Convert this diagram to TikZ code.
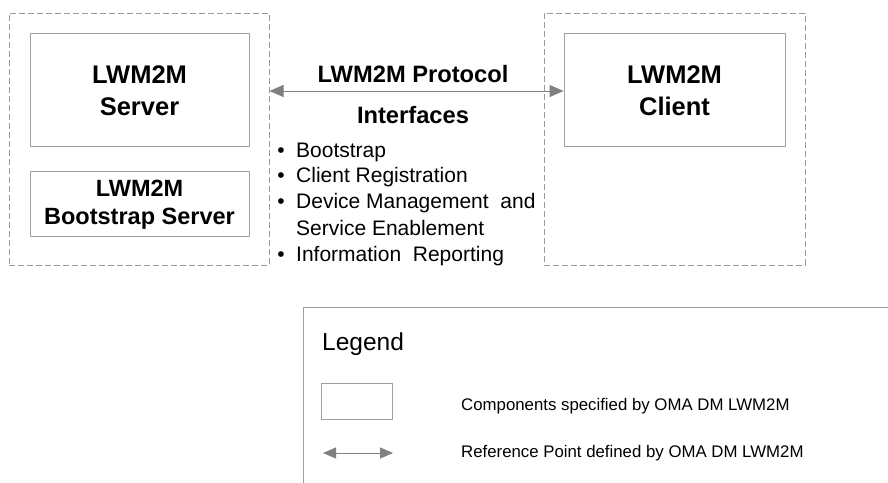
\documentclass[tikz,border=0pt]{standalone}
\usepackage{fontspec}
\setmainfont{Liberation Sans}
\usetikzlibrary{arrows.meta}
\definecolor{dashgray}{HTML}{9A9A9A}
\definecolor{boxgray}{HTML}{A0A0A0}
\definecolor{arrgray}{HTML}{808080}
\tikzset{
  group/.style={draw=dashgray, line width=1pt, dash pattern=on 6pt off 3pt, inner sep=0pt},
  compbox/.style={draw=boxgray, line width=1pt, inner sep=0pt},
  bigtitle/.style={font=\fontsize{25.5}{30}\selectfont\bfseries, inner sep=0pt, anchor=base},
  smalltitle/.style={font=\fontsize{23.5}{28}\selectfont\bfseries, inner sep=0pt, anchor=base},
  proto/.style={font=\fontsize{23.7}{28}\selectfont\bfseries, inner sep=0pt, anchor=base},
  item/.style={font=\fontsize{21}{26}\selectfont, inner sep=0pt, anchor=base west},
  bul/.style={font=\fontsize{21}{26}\selectfont, inner sep=0pt, anchor=base},
  refarrow/.style={draw=arrgray, line width=1pt, {Triangle[length=14pt,width=12pt,fill=arrgray]}-{Triangle[length=14pt,width=12pt,fill=arrgray]}},
  legarrow/.style={draw=arrgray, line width=1pt, {Triangle[length=13pt,width=11pt,fill=arrgray]}-{Triangle[length=13pt,width=11pt,fill=arrgray]}},
  legtext/.style={font=\fontsize{16.8}{20}\selectfont, inner sep=0pt, anchor=base west},
}
\begin{document}
\begin{tikzpicture}[x=1pt,y=-1pt]
\useasboundingbox (0,0) rectangle (888,482);
% groups
\node[group, minimum width=260pt, minimum height=252pt] (leftgroup) at (139,139) {};
\node[group, minimum width=261pt, minimum height=252pt] (rightgroup) at (674.5,139) {};
% component boxes
\node[compbox, minimum width=219pt, minimum height=113pt] (server) at (139.5,89.5) {};
\node[compbox, minimum width=219pt, minimum height=65pt] (bootstrap) at (139.5,203.5) {};
\node[compbox, minimum width=221pt, minimum height=113pt] (client) at (674.5,89.5) {};
% titles
\node[bigtitle] (s1) at (139.5,83.3) {LWM2M};
\node[bigtitle] (s2) at (139.5,115) {Server};
\node[smalltitle] (b1) at (139.5,196.7) {LWM2M};
\node[smalltitle] (b2) at (139.5,224) {Bootstrap Server};
\node[bigtitle] (c1) at (674.5,83.3) {LWM2M};
\node[bigtitle] (c2) at (674.5,115) {Client};
% protocol arrow
\draw[refarrow] ([yshift=-1.5pt]leftgroup.east |- client.west) -- ([yshift=-1.5pt]client.west);
\node[proto] (proto) at (413,82.7) {LWM2M Protocol};
\node[proto] (iface) at (413,123.3) {Interfaces};
% bullet list
\node[bul] (bu1) at (281,157.7) {•};
\node[item] (i1) at (296,157.7) {Bootstrap};
\node[bul] (bu2) at (281,182.7) {•};
\node[item] (i2) at (296,182.7) {Client Registration};
\node[bul] (bu3) at (281,208.3) {•};
\node[item] (i3) at (296,208.3) {Device Management\ \ and};
\node[item] (i3b) at (296,235.7) {Service Enablement};
\node[bul] (bu4) at (281,261.7) {•};
\node[item] (i4) at (296,261.7) {Information\ \ Reporting};
% legend
\begin{scope}
\clip (0,0) rectangle (888,482);
\node[compbox, anchor=north west, minimum width=620pt, minimum height=200pt] (legend) at (303,307) {};
\end{scope}
\node[font=\fontsize{24.5}{29}\selectfont, inner sep=0pt, anchor=base west] (legtitle) at (322,350) {Legend};
\node[compbox, minimum width=71pt, minimum height=36pt] (legbox) at (356.5,401) {};
\node[legtext] (legt1) at (461,410) {Components specified by OMA DM LWM2M};
\coordinate (la) at (323,453);
\coordinate (lb) at (393,453);
\draw[legarrow] (la) -- (lb);
\node[legtext] (legt2) at (461,457) {Reference Point defined by OMA DM LWM2M};
\end{tikzpicture}
\end{document}
